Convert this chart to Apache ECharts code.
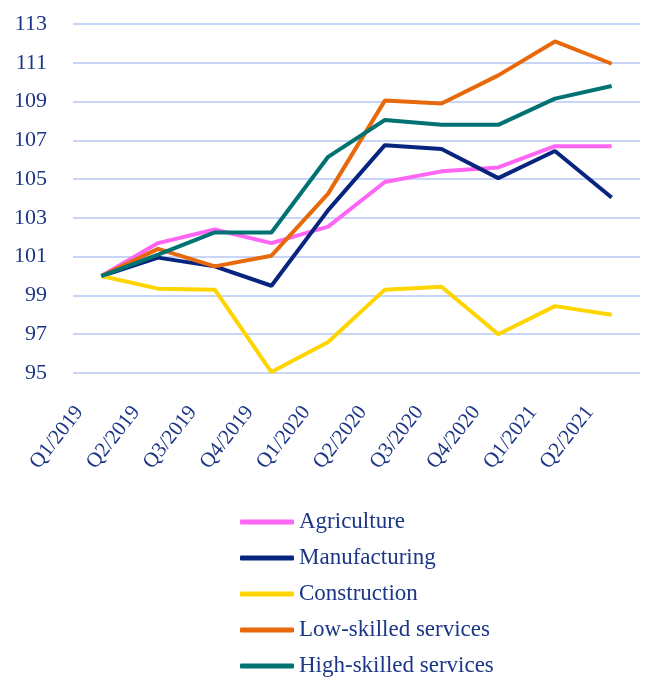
<!DOCTYPE html>
<html>
<head>
<meta charset="utf-8">
<script src="https://cdn.jsdelivr.net/npm/echarts@6/dist/echarts.min.js"></script>
<style>
  html, body { margin: 0; padding: 0; background: #fff; }
  #chart { width: 648px; height: 679px; }
</style>
</head>
<body>
<div id="chart"></div>
<script>
// quarters on the x axis
var quarters = ['Q1/2019', 'Q2/2019', 'Q3/2019', 'Q4/2019', 'Q1/2020',
                'Q2/2020', 'Q3/2020', 'Q4/2020', 'Q1/2021', 'Q2/2021']

// index values, Q1/2019 = 100
var agriculture   = [100, 101.7, 102.4, 101.7, 102.55, 104.85, 105.4, 105.6, 106.7, 106.7]
var manufacturing = [100, 100.95, 100.5, 99.5, 103.4, 106.75, 106.55, 105.05, 106.45, 104.05]
var construction  = [100, 99.35, 99.3, 95.05, 96.6, 99.3, 99.45, 97.0, 98.45, 98.0]
var lowSkilled    = [100, 101.4, 100.5, 101.05, 104.25, 109.05, 108.9, 110.35, 112.1, 110.95]
var highSkilled   = [100, 101.1, 102.25, 102.25, 106.15, 108.05, 107.8, 107.8, 109.15, 109.8]

var navyText = '#1b3686'
var font = 'Liberation Serif'

function line(name, data, color) {
    return {
        name: name,
        type: 'line',
        data: data,
        symbol: 'none',
        lineStyle: { color: color, width: 4 },
        itemStyle: { color: color }
    }
}

var myChart = echarts.init(document.getElementById('chart'))
var option = {
    animation: false,
    grid: { left: 73, right: 8, top: 24, bottom: 306 },
    xAxis: {
        type: 'category',
        data: quarters,
        axisLine: { show: false },
        axisTick: { show: false },
        axisLabel: {
            rotate: 52,
            margin: 31,
            // nudge labels so they hang left of their point
            verticalAlign: 'bottom',
            padding: [0, 17, 4, 0],
            color: navyText,
            fontFamily: font,
            fontSize: 21
        }
    },
    yAxis: {
        type: 'value',
        min: 95,
        max: 113,
        interval: 2,
        axisLine: { show: false },
        axisTick: { show: false },
        splitLine: { lineStyle: { color: '#c9d5f7', width: 2 } },
        axisLabel: {
            margin: 26,
            color: navyText,
            fontFamily: font,
            fontSize: 22
        }
    },
    legend: {
        orient: 'vertical',
        left: 240,
        top: 510,
        padding: 0,
        height: 169,
        icon: 'roundRect',
        itemWidth: 54,
        itemHeight: 5,
        itemGap: 12,
        textStyle: { color: navyText, fontFamily: font, fontSize: 23, lineHeight: 24 }
    },
    series: [
        line('Agriculture', agriculture, '#ff66f4'),
        line('Manufacturing', manufacturing, '#07247f'),
        line('Construction', construction, '#ffd500'),
        line('Low-skilled services', lowSkilled, '#e8690b'),
        line('High-skilled services', highSkilled, '#007272')
    ]
}
option && myChart.setOption(option)
</script>
</body>
</html>
